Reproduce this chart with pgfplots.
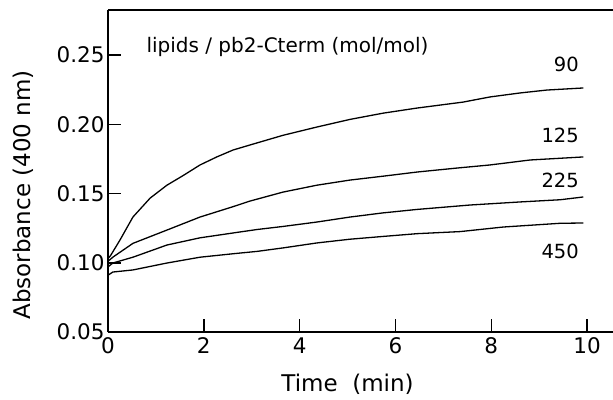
\documentclass[border=0pt]{standalone}
\usepackage{pgfplots}
\pgfplotsset{compat=1.18}
\usepackage{fontspec}
\setmainfont{DejaVu Sans}
\begin{document}
\begin{tikzpicture}
\begin{axis}[name=ax, scale only axis, width=505pt, height=322pt,
  xmin=0, xmax=10.54, ymin=0.05, ymax=0.2825,
  axis x line*=box, axis y line*=left,
  xtick={0,2,4,6,8,10}, ytick={0.05,0.10,0.15,0.20,0.25},
  xtick pos=lower, ytick pos=left,
  tick align=inside, major tick length=13pt,
  axis line style={line width=1.5pt},
  every tick/.style={line width=1.5pt, black},
  /pgf/number format/assume math mode=true,
  yticklabel style={/pgf/number format/fixed, /pgf/number format/fixed zerofill, /pgf/number format/precision=2},
  tick label style={font=\fontsize{21.5}{25}\selectfont},
  xticklabel style={yshift=-2pt},
  xlabel={Time\ \ (min)}, ylabel={Absorbance (400 nm)},
  label style={font=\fontsize{23}{27}\selectfont},
  xlabel style={at={(axis cs:5,0.0067)}, anchor=base},
  ylabel style={at={(axis cs:-1.775,0.149)}, anchor=center},
]
\addplot[black, line width=1.3pt, mark=none] coordinates {(0,0.103) (0.05,0.105) (0.25,0.1164) (0.52,0.133) (0.88,0.1467) (1.23,0.156) (1.57,0.163) (1.92,0.1706) (2.27,0.1764) (2.61,0.1814) (2.96,0.185) (3.65,0.1920) (4.36,0.198) (5.05,0.2035) (5.74,0.208) (6.45,0.2117) (7.41,0.216) (7.97,0.2197) (8.6,0.2226) (9.16,0.2247) (9.92,0.2262)};
\addplot[black, line width=1.3pt, mark=none] coordinates {(0,0.101) (0.1,0.104) (0.52,0.114) (1.23,0.1236) (1.92,0.133) (2.61,0.1405) (2.96,0.1445) (3.65,0.1510) (4.36,0.156) (5.05,0.1597) (5.74,0.1625) (6.45,0.1655) (7.29,0.1684) (7.97,0.1706) (8.81,0.1742) (9.92,0.1764)};
\addplot[black, line width=1.3pt, mark=none] coordinates {(0,0.097) (0.1,0.0998) (0.52,0.104) (1.23,0.1128) (1.92,0.1180) (2.61,0.1215) (3.11,0.1240) (3.65,0.1262) (4.36,0.1294) (5.05,0.133) (5.74,0.1360) (6.45,0.1385) (7.56,0.1417) (8.6,0.1439) (9.44,0.1455) (9.92,0.1475)};
\addplot[black, line width=1.3pt, mark=none] coordinates {(0,0.091) (0.1,0.0933) (0.52,0.0948) (1.23,0.0998) (1.92,0.104) (2.61,0.1065) (3.11,0.1082) (3.65,0.1107) (4.36,0.1143) (5.05,0.1170) (5.74,0.1190) (6.45,0.1210) (7.35,0.1225) (8.25,0.1258) (9.44,0.1285) (9.92,0.1287)};
\node[anchor=base west, font=\fontsize{20}{24}\selectfont] at (axis cs:0.73,0.252) {lipids / pb2-Cterm (mol/mol)};
\node[anchor=base east, font=\fontsize{19.5}{23}\selectfont] at (axis cs:9.9,0.2384) {90};
\node[anchor=base east, font=\fontsize{19.5}{23}\selectfont] at (axis cs:9.9,0.1865) {125};
\node[anchor=base east, font=\fontsize{19.5}{23}\selectfont] at (axis cs:9.9,0.154) {225};
\node[anchor=base east, font=\fontsize{19.5}{23}\selectfont] at (axis cs:9.9,0.1034) {450};
\end{axis}
\pgfresetboundingbox
\path[use as bounding box] ([shift={(-108pt,-67pt)}]ax.south west) rectangle ([shift={(0pt,10pt)}]ax.north east);
\end{tikzpicture}
\end{document}
